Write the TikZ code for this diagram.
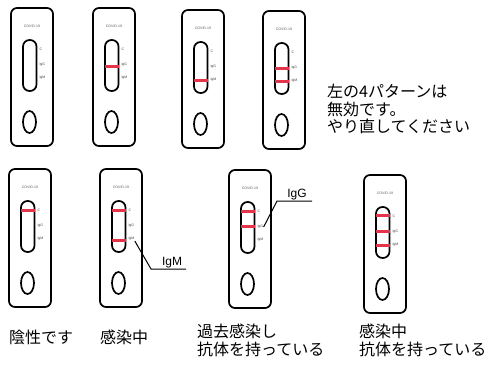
\documentclass[tikz,border=0pt]{standalone}
\usepackage{fontspec}
\setmainfont{Noto Sans CJK JP}
\newfontfamily\latinsans{Liberation Sans}
\usetikzlibrary{positioning}

\definecolor{bandred}{RGB}{228,52,74}

\tikzset{
  casing/.style={draw=black,line width=1.7pt},
  band/.style={draw=bandred,line width=3pt},
  brand/.style={font=\latinsans\fontsize{3.5}{4}\selectfont,text=black!65,inner sep=0pt},
  tag/.style={font=\latinsans\fontsize{3.5}{4}\selectfont,text=black!75,inner sep=0.3pt,anchor=west},
  leader/.style={draw=black,line width=1pt},
  callout/.style={font=\latinsans\fontsize{12}{12}\selectfont,inner sep=1pt,anchor=south},
  caption/.style={font=\fontsize{16}{17.5}\selectfont,align=left,inner sep=0pt,anchor=north west}
}

% one test cassette: #1 name, #2 x, #3 y, #4 band offsets
\newcommand{\cassette}[4]{%
  \begin{scope}[shift={(#2,#3)}]
    \draw[casing,rounded corners=6] (0,0) rectangle (42,138);
    \draw[casing,rounded corners=6.5] (12,32) rectangle (25.5,83);
    \draw[casing] (18.5,114) ellipse (6.5 and 11);
    \node[brand] (#1-brand) at (21,18) {COVID-19};
    \node[tag] (#1-c) at (28,41) {C};
    \node[tag] (#1-g) at (28,57) {IgG};
    \node[tag] (#1-m) at (28,70) {IgM};
    \foreach \b in {#4} \draw[band] (11.5,\b) -- (26,\b);
  \end{scope}}

\begin{document}
\begin{tikzpicture}[x=1pt,y=-1pt]
\useasboundingbox (0,0) rectangle (498,367);

% invalid patterns
\cassette{k1}{11}{8}{}
\cassette{k2}{93}{8}{58}
\cassette{k3}{182}{10}{70}
\cassette{k4}{263}{11}{57,70}
\node[caption] (invalid) at (327,84) {左の4パターンは\\無効です。\\やり直してください};

% valid patterns
\cassette{k5}{9}{169}{41}
\cassette{k6}{100}{169}{41,71}
\cassette{k7}{229}{170}{41,56}
\cassette{k8}{364}{175}{40,56,70}

% callouts
\coordinate (igmknee) at (151,269);
\coordinate (igmend) at (186,269);
\node[callout] (igmtag) at (172,269) {IgM};
\draw[leader] (k6-m.south east) -- (igmknee) -- (igmend);

\coordinate (iggknee) at (277,201);
\coordinate (iggend) at (312,201);
\node[callout] (iggtag) at (297,201) {IgG};
\draw[leader] (k7-g.east) -- (iggknee) -- (iggend);

% captions
\node[caption,anchor=west] (neg) at (9,337) {陰性です};
\node[caption,anchor=west] (acute) at (100,337) {感染中};
\node[caption] (past) at (197,324) {過去感染し\\抗体を持っている};
\node[caption] (both) at (359,324) {感染中\\抗体を持っている};
\end{tikzpicture}
\end{document}
